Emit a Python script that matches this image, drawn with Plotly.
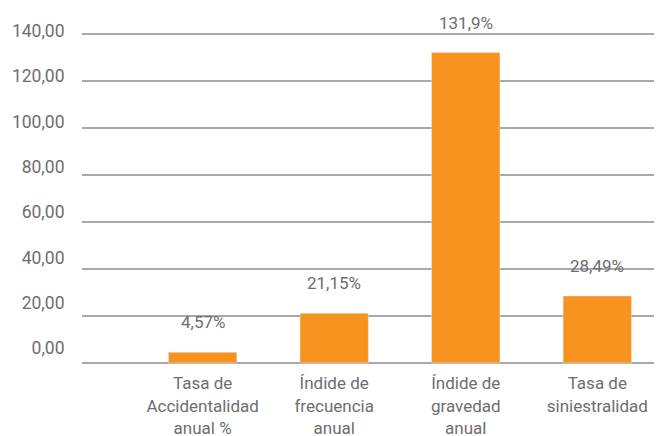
import plotly.graph_objects as go

categories = ["Tasa de<br>Accidentalidad<br>anual %", "Índide de<br>frecuencia<br>anual",
              "Índide de<br>gravedad<br>anual", "Tasa de<br>siniestralidad"]
values = [4.57, 21.15, 131.9, 28.49]
value_labels = ["4,57%", "21,15%", "131,9%", "28,49%"]
tick_vals = [0, 20, 40, 60, 80, 100, 120, 140]
tick_text = ["0,00", "20,00", "40,00", "60,00", "80,00", "100,00", "120,00", "140,00"]

ORANGE = "#F7931E"
TEXT = "#6d6e71"
GRID = "#a7a9ac"
FONT = "Roboto"

fig = go.Figure()
fig.add_trace(go.Bar(x=categories, y=values, marker_color=ORANGE, width=0.52,
                     hoverinfo="skip"))
# invisible trace to activate the secondary (label) axis
fig.add_trace(go.Scatter(x=categories, y=values, yaxis="y2", mode="markers",
                         marker=dict(opacity=0), showlegend=False, hoverinfo="skip"))

for c, v, t in zip(categories, values, value_labels):
    fig.add_annotation(x=c, y=v, text=t, showarrow=False, yanchor="middle", yshift=30,
                       font=dict(family=FONT, size=17, color=TEXT))

fig.update_layout(
    width=646, height=428,
    margin=dict(l=74, r=0, t=22, b=70, autoexpand=False),
    paper_bgcolor="white", plot_bgcolor="white",
    showlegend=False,
    separators=",.",
    font=dict(family=FONT, size=17, color=TEXT),
    xaxis=dict(type="category", range=[-0.917, 3.431], showgrid=False, zeroline=False,
               showline=False, ticks="outside", ticklen=2, tickcolor="rgba(0,0,0,0)",
               automargin=False,
               tickfont=dict(family=FONT, size=17, color=TEXT)),
    yaxis=dict(range=[-1.27, 141.49], tickvals=tick_vals, showticklabels=False,
               automargin=False,
               showgrid=True, gridcolor=GRID, gridwidth=1.5, zeroline=False, showline=False),
    yaxis2=dict(overlaying="y", side="left", range=[-7.95, 140.46], tickvals=tick_vals,
                ticktext=tick_text, showgrid=False, zeroline=False, showline=False,
                ticks="outside", ticklen=13, tickcolor="rgba(0,0,0,0)", automargin=False,
                tickfont=dict(family=FONT, size=17.5, color=TEXT)),
)

fig.write_html("out.html")
